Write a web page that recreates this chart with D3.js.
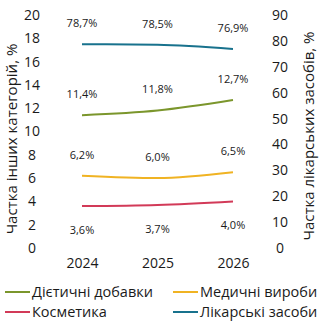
<!DOCTYPE html>
<html>
<head>
<meta charset="utf-8">
<script src="https://cdn.jsdelivr.net/npm/d3@7"></script>
<style>
  body { margin: 0; background: #fff; }
  text { font-family: "Open Sans", sans-serif; fill: #1a1a1a; }
</style>
</head>
<body>
<svg></svg>
<script>
// chart data
var years = ["2024", "2025", "2026"];
var dietary = [11.4, 11.8, 12.7];
var medical = [6.2, 6.0, 6.5];
var cosmetics = [3.6, 3.7, 4.0];
var medicines = [78.7, 78.5, 76.9];
var leftTicks = [0, 2, 4, 6, 8, 10, 12, 14, 16, 18, 20];
var rightTicks = [0, 10, 20, 30, 40, 50, 60, 70, 80, 90];

var width = 325, height = 325;
var svg = d3.select("svg").attr("width", width).attr("height", height);

var x = d3.scalePoint().domain(years).range([82, 233]);
var yLeft = d3.scaleLinear().domain([0, 20]).range([248, 15]);
var yRight = d3.scaleLinear().domain([0, 90]).range([248, 15]);

//series: values, axis, colour, label offset
var series = [
  { name: "Дієтичні добавки", values: dietary, y: yLeft, color: "#7b962c", dy: -21 },
  { name: "Медичні вироби", values: medical, y: yLeft, color: "#f0b323", dy: -21 },
  { name: "Косметика", values: cosmetics, y: yLeft, color: "#d23a58", dy: 24 },
  { name: "Лікарські засоби", values: medicines, y: yRight, color: "#18728d", dy: -21 }
];

//axes
var left = svg.append("g")
  .attr("transform", "translate(40,0)")
  .call(d3.axisLeft(yLeft).tickValues(leftTicks).tickSize(0).tickPadding(0));
left.select(".domain").remove();
left.selectAll("text").attr("x", -8).attr("text-anchor", "middle")
  .style("font-size", "14px").style("font-family", "Open Sans");

var right = svg.append("g")
  .attr("transform", "translate(272,0)")
  .call(d3.axisRight(yRight).tickValues(rightTicks).tickSize(0).tickPadding(0));
right.select(".domain").remove();
right.selectAll("text").attr("x", 8).attr("text-anchor", "middle")
  .style("font-size", "14px").style("font-family", "Open Sans");

var bottom = svg.append("g")
  .attr("transform", "translate(0,258)")
  .call(d3.axisBottom(x).tickSize(0).tickPadding(0));
bottom.select(".domain").remove();
bottom.selectAll("text").attr("dy", "0.71em")
  .style("font-size", "14px").style("font-family", "Open Sans");

//axis titles
svg.append("text")
  .attr("transform", "translate(12,139) rotate(-90)")
  .attr("text-anchor", "middle").attr("dy", "0.35em")
  .style("font-size", "15px")
  .text("Частка інших категорій, %");

svg.append("text")
  .attr("transform", "translate(309,136) rotate(-90)")
  .attr("text-anchor", "middle").attr("dy", "0.35em")
  .style("font-size", "15px")
  .text("Частка лікарських засобів, %");

//lines and labels
var line = function(s) {
  return d3.line()
    .x(function(d, i) { return x(years[i]); })
    .y(function(d) { return s.y(d); })
    .curve(d3.curveMonotoneX)(s.values);
};

series.forEach(function(s) {
  svg.append("path")
    .attr("d", line(s))
    .attr("fill", "none")
    .attr("stroke", s.color)
    .attr("stroke-width", 2);

  svg.selectAll(null)
    .data(s.values)
    .enter().append("text")
    .attr("x", function(d, i) { return x(years[i]); })
    .attr("y", function(d) { return s.y(d) + s.dy; })
    .attr("dy", "0.35em")
    .attr("text-anchor", "middle")
    .style("font-size", "11px")
    .text(function(d) { return d.toFixed(1).replace(".", ",") + "%"; });
});

//legend
var legendPos = [[5, 292], [173, 292], [5, 312], [173, 312]];
var legend = svg.selectAll(".legend")
  .data(series)
  .enter().append("g")
  .attr("class", "legend")
  .attr("transform", function(d, i) { return "translate(" + legendPos[i][0] + "," + legendPos[i][1] + ")"; });

legend.append("line")
  .attr("x1", 0).attr("x2", 25)
  .attr("stroke", function(d) { return d.color; })
  .attr("stroke-width", 2);

legend.append("text")
  .attr("x", 27).attr("dy", "0.35em")
  .style("font-size", "14.5px")
  .text(function(d) { return d.name; });
</script>
</body>
</html>
